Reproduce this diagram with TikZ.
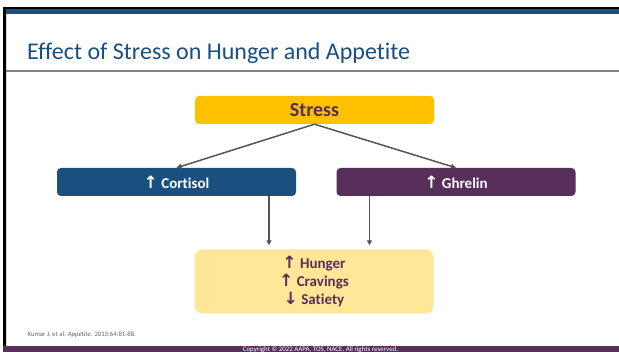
\documentclass[tikz,border=0pt]{standalone}
\usepackage{fontspec}
\setmainfont{Carlito}[Ligatures={NoCommon,NoDiscretionary}]
\newfontfamily\arrowfont{DejaVu Sans}
\usetikzlibrary{arrows.meta}

\definecolor{navy}{RGB}{26,80,128}
\definecolor{plum}{RGB}{88,46,90}
\definecolor{gold}{RGB}{255,192,0}
\definecolor{cream}{RGB}{255,230,153}
\definecolor{linkgray}{RGB}{85,85,85}
\definecolor{rulegray}{RGB}{128,128,128}
\definecolor{notegray}{RGB}{100,100,100}

% bold up and down arrows, a little larger than the label text
\newcommand{\upar}{{\arrowfont\bfseries\fontsize{17}{18}\selectfont\char"2191}}
\newcommand{\downar}{{\arrowfont\bfseries\fontsize{17}{18}\selectfont\char"2193}}

\tikzset{
  box/.style={rounded corners=4pt, minimum width=239pt, inner sep=0pt, font=\bfseries\fontsize{15}{18}\selectfont},
  link/.style={draw=linkgray, line width=1.5pt, -{Triangle[length=5pt,width=5pt]}},
}

\begin{document}
\begin{tikzpicture}[x=1pt,y=-1pt]
  \useasboundingbox (0,0) rectangle (619,352);
  \fill[white] (0,0) rectangle (619,352);

  % slide frame
  \fill[black] (3,7) rectangle (619,9.5);
  \fill[navy] (5.5,9.5) rectangle (619,14);
  \fill[black] (3,7) rectangle (5.5,346);
  \fill[black!15] (5.5,14) rectangle (6.3,346);
  \fill[plum] (3,345.7) rectangle (619,352);

  % title and rule
  \node[anchor=base west, inner sep=0pt, text=navy, font=\fontsize{24}{28}\selectfont] (title) at (27,60) {Effect of Stress on Hunger and Appetite};
  \draw[rulegray, line width=1.4pt] (5.5,71) -- (619,71);

  % boxes
  \node[box, fill=gold, text=plum, minimum height=28pt, font=\bfseries\fontsize{20}{24}\selectfont] (stress) at (314.5,110) {Stress};
  \node[box, fill=navy, text=white, minimum height=28pt] (cortisol) at (176.5,182) {\upar\ Cortisol};
  \node[box, fill=plum, text=white, minimum height=28pt] (ghrelin) at (456,182) {\upar\ Ghrelin};
  \node[box, fill=cream, text=plum, minimum height=64pt, rounded corners=8pt, align=center] (effects) at (314,281.5)
    {\upar\ Hunger\\\upar\ Cravings\\\downar\ Satiety};

  % connectors
  \draw[link] (stress.south) -- (cortisol.north);
  \draw[link] (stress.south) -- (ghrelin.north);
  \coordinate (cx) at (269,0);
  \coordinate (gx) at (369.5,0);
  \draw[link] (cortisol.south -| cx) -- ([yshift=4pt]effects.north -| cx);
  \draw[link] (ghrelin.south -| gx) -- ([yshift=4pt]effects.north -| gx);

  % reference and copyright
  \node[anchor=base west, inner sep=0pt, text=notegray, font=\fontsize{6.7}{8}\selectfont] (ref) at (27.5,337) {Kumar J, et al. \textit{Appetite}. 2013;64:81-88.};
  \node[anchor=base, inner sep=0pt, text=white, font=\fontsize{6.9}{8}\selectfont] (copy) at (320.5,351.5) {Copyright © 2022 AAPA, TOS, NACE. All rights reserved.};
\end{tikzpicture}
\end{document}
